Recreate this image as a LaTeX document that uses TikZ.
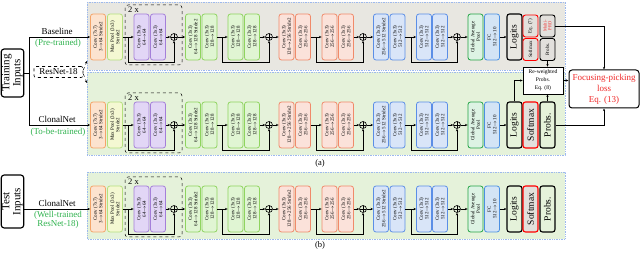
\documentclass[tikz,border=0pt]{standalone}
\usepackage{fontspec}
\setmainfont{Liberation Serif}
\usepackage{xcolor}
\usetikzlibrary{arrows.meta,positioning,calc}

\definecolor{c7d}{HTML}{F4A468}
\definecolor{c7f}{HTML}{FCE3CF}
\definecolor{mpd}{HTML}{B5E07E}
\definecolor{mpf}{HTML}{F4F8D2}
\definecolor{ppd}{HTML}{A47FD9}
\definecolor{ppf}{HTML}{E2D6F6}
\definecolor{gnd}{HTML}{8FD45F}
\definecolor{gnf}{HTML}{E0F5D3}
\definecolor{ord}{HTML}{F08A6A}
\definecolor{orf}{HTML}{FBE2DA}
\definecolor{bld}{HTML}{5B8EE6}
\definecolor{blf}{HTML}{D9E5F8}
\definecolor{gpd}{HTML}{23A345}
\definecolor{gpf}{HTML}{DDF3E4}
\definecolor{fcd}{HTML}{4A90E2}
\definecolor{fcf}{HTML}{D3E4F5}
\definecolor{pgray}{HTML}{E8E7E1}
\definecolor{pgreen}{HTML}{E5F2DA}
\definecolor{pline}{HTML}{9DB9EE}
\definecolor{smf}{HTML}{E2E0DC}
\definecolor{tgreen}{HTML}{2FB24E}
\definecolor{lred}{HTML}{F02828}

\begin{document}
\begin{tikzpicture}[x=1pt,y=-1pt,
   blk/.style={rotate=90,draw,rounded corners=2.5pt,line width=0.8pt,minimum width=46pt,
               minimum height=15pt,inner sep=0.5pt,align=center,font=\fontsize{5}{5.5}\selectfont},
   conva/.style={blk,draw=c7d,fill=c7f},
   pool/.style={blk,draw=mpd,fill=mpf},
   convb/.style={blk,draw=ppd,fill=ppf},
   convc/.style={blk,draw=gnd,fill=gnf},
   convd/.style={blk,draw=ord,fill=orf},
   conve/.style={blk,draw=bld,fill=blf},
   gap/.style={blk,draw=gpd,fill=gpf},
   fc/.style={blk,draw=fcd,fill=fcf},
   outb/.style={blk,draw=black,line width=1.1pt,font=\fontsize{9.5}{10}\selectfont},
   smb/.style={outb,draw=red,fill=smf},
   half/.style={blk,minimum width=22pt,line width=0.9pt},
   addc/.style={circle,draw,line width=0.6pt,inner sep=0pt,minimum size=7pt,
                path picture={\draw[line width=0.5pt]
                  (path picture bounding box.north) -- (path picture bounding box.south)
                  (path picture bounding box.east) -- (path picture bounding box.west);}},
   arr/.style={-{Stealth[length=2.6pt,width=2.2pt]},line width=0.5pt},
   panel/.style={draw=pline,densely dotted,line width=0.7pt},
   rep/.style={dashed,rounded corners=3pt,line width=0.5pt},
   lab/.style={font=\fontsize{9}{9}\selectfont,inner sep=0.5pt,align=center},
   note/.style={lab,text=tgreen},
   inbox/.style={rotate=90,draw,line width=1.2pt,rounded corners=3pt,minimum height=21pt,
                 align=center,font=\fontsize{11}{11}\selectfont,inner sep=1pt}
]
\useasboundingbox (0,0) rectangle (640,253);

% panels
\draw[panel,fill=pgray]  (87,2) rectangle (565,70);
\draw[panel,fill=pgreen] (87,72) rectangle (565,155);
\draw[panel,fill=pgreen] (87,172) rectangle (565,239);

% ResNet-18 backbone, one row per network
\foreach \net/\yc in {bl/37,cl/125,ts/209}{
  \draw[rep] (125,\yc-32) rectangle (182,\yc+28);
  \node[anchor=west,font=\fontsize{8.5}{8.5}\selectfont,inner sep=0pt] (\net rep) at (128,\yc-27) {2 x};

  \node[conva] (\net1) at (98,\yc)    {Conv (7x7)\\3$\to$64 Stride2};
  \node[pool]  (\net2) at (115,\yc)   {Max Pool (3x3)\\Stride2};
  \node[convb] (\net3) at (141.5,\yc) {Conv (3x3)\\64$\to$64};
  \node[convb] (\net4) at (158,\yc)   {Conv (3x3)\\64$\to$64};
  \node[addc]  (\net add1) at (174,\yc) {};
  \node[convc] (\net5) at (193,\yc)   {Conv (3x3)\\64$\to$128 Stride2};
  \node[convc] (\net6) at (209.5,\yc) {Conv (3x3)\\128$\to$128};
  \node[convc] (\net7) at (235.5,\yc) {Conv (3x3)\\128$\to$128};
  \node[convc] (\net8) at (252,\yc)   {Conv (3x3)\\128$\to$128};
  \node[addc]  (\net add2) at (269,\yc) {};
  \node[convd] (\net9) at (286.5,\yc) {Conv (3x3)\\128$\to$256 Stride2};
  \node[convd] (\net10) at (303,\yc)  {Conv (3x3)\\256$\to$256};
  \node[convd] (\net11) at (329.5,\yc) {Conv (3x3)\\256$\to$256};
  \node[convd] (\net12) at (346,\yc)  {Conv (3x3)\\256$\to$256};
  \node[addc]  (\net add3) at (363,\yc) {};
  \node[conve] (\net13) at (381,\yc)  {Conv (3x3)\\256$\to$512 Stride2};
  \node[conve] (\net14) at (397.5,\yc) {Conv (3x3)\\512$\to$512};
  \node[conve] (\net15) at (424,\yc)  {Conv (3x3)\\512$\to$512};
  \node[conve] (\net16) at (440,\yc)  {Conv (3x3)\\512$\to$512};
  \node[addc]  (\net add4) at (457,\yc) {};
  \node[gap]   (\net17) at (475.5,\yc) {Global Average\\Pool};
  \node[fc]    (\net18) at (492,\yc)  {FC\\512$\to$10};
  \node[outb]  (\net19) at (514.5,\yc) {Logits};

  % main path
  \draw[arr] (\net2) -- (\net3);
  \draw[arr] (\net4) -- (\net add1);
  \draw[arr] (\net add1) -- (\net5);
  \draw[arr] (\net6) -- (\net7);
  \draw[arr] (\net8) -- (\net add2);
  \draw[arr] (\net add2) -- (\net9);
  \draw[arr] (\net10) -- (\net11);
  \draw[arr] (\net12) -- (\net add3);
  \draw[arr] (\net add3) -- (\net13);
  \draw[arr] (\net14) -- (\net15);
  \draw[arr] (\net16) -- (\net add4);
  \draw[arr] (\net add4) -- (\net17);
  \draw[arr] (\net18) -- (\net19);

  % shortcuts
  \coordinate (\net br1) at (128,\yc);
  \coordinate (\net br2) at (222,\yc);
  \coordinate (\net br3) at (316,\yc);
  \coordinate (\net br4) at (411,\yc);
  \draw[arr] (\net br1) -- ++(0,25) -| (\net add1);
  \draw[arr] (\net br2) -- ++(0,25) -| (\net add2);
  \draw[arr] (\net br3) -- ++(0,25) -| (\net add3);
  \draw[arr] (\net br4) -- ++(0,25) -| (\net add4);
}

% outputs of the baseline
\node[half,draw=red,fill=smf] (bleq) at (530.5,26) {Eq. (7)};
\node[half,draw=red,fill=smf] (blsm) at (530.5,49.5) {Softmax};
\node[half,draw=black,fill=smf,text=lred,font=\fontsize{4.5}{4.8}\selectfont] (blmp) at (547.5,26) {Multi-\\PRD};
\node[half,draw=black,fill=smf] (blpr) at (547.5,49.5) {Probs.};

% outputs of the ClonalNet rows
\foreach \net/\yc in {cl/125,ts/209}{
  \node[smb]  (\net sm) at (530.5,\yc) {Softmax};
  \node[outb] (\net pr) at (547.5,\yc) {Probs.};
}

% inputs
\node[inbox,minimum width=48pt] (train) at (12.5,73) {Training\\Inputs};
\node[inbox,minimum width=53pt] (test) at (12.5,201.5) {Test\\Inputs};
\node[draw,dashed,rounded corners=2pt,line width=0.6pt,minimum width=49pt,minimum height=11pt,
      inner sep=0pt,font=\fontsize{9}{9}\selectfont] (res) at (58.5,72) {ResNet-18};

\draw[line width=0.6pt] (train.south) -- ++(5,0) coordinate (tj);
\draw[arr,line width=0.6pt] (tj) |- (bl1);
\draw[arr,line width=0.6pt] (tj) |- (cl1);
\draw[arr,line width=0.6pt] (test.south |- ts1) -- (ts1);

\node[lab]  (blname) at (57,31.5) {Baseline};
\node[note] (blnote) at (58,43.5) {(Pre-trained)};
\node[lab]  (clname) at (57,119.5) {ClonalNet};
\node[note] (clnote) at (58,132.5) {(To-be-trained)};
\node[lab]  (tsname) at (57,203.5) {ClonalNet};
\node[note,font=\fontsize{9}{9}\selectfont] (tsnote) at (58,220) {(Well-trained\\ResNet-18)};

\coordinate (pA) at (87,61);
\coordinate (pB) at (87,83);
\draw[arr,dashed] ([yshift=2pt]res.east) -- (pA);
\draw[arr,dashed] ([yshift=-2pt]res.east) -- (pB);

% re-weighting and loss
\node[draw,fill=white,line width=0.6pt,minimum width=40pt,minimum height=27pt,inner sep=0pt,
      align=center,font=\fontsize{5.6}{8}\selectfont] (rw) at (543,80.5) {Re-weighted\\Probs.\\Eq. (8)};
\node[draw,fill=white,rounded corners=3pt,line width=1pt,minimum width=70pt,minimum height=38pt,
      inner sep=0pt,align=center,text=lred,font=\fontsize{9}{11}\selectfont] (loss) at (604,89)
      {Focusing-picking\\loss\\Eq. (13)};

\draw[arr] (blpr) -- (blpr |- rw.north);
\draw[arr] (clpr) -- (clpr |- rw.south);
\draw[arr] (cl19) |- (rw);
\draw[arr] (rw) -- (rw -| loss.west);
\draw[arr] (blmp) -| (loss);
\draw[arr] (clpr) -| (loss);

\node[font=\fontsize{8.5}{8.5}\selectfont] (capa) at (320,163) {(a)};
\node[font=\fontsize{8.5}{8.5}\selectfont] (capb) at (320,245.5) {(b)};
\end{tikzpicture}
\end{document}
